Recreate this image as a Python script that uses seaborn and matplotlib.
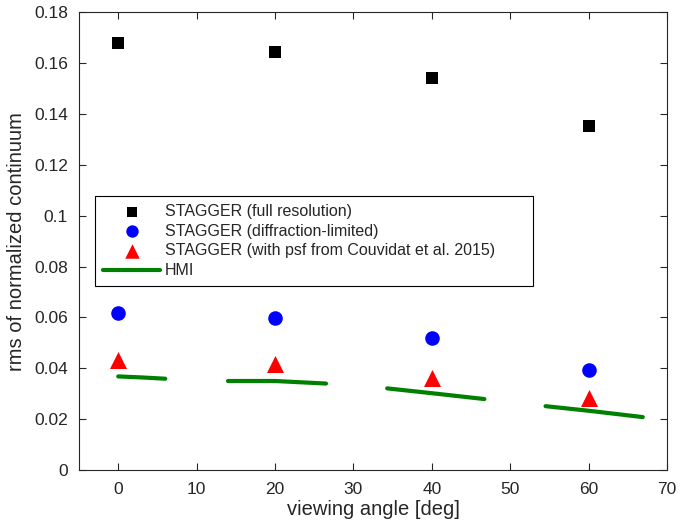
import matplotlib
matplotlib.use("Agg")
import matplotlib.pyplot as plt
import numpy as np
import seaborn as sns
import pandas as pd

# viewing angles of the simulations
angle = [0, 20, 40, 60]
full_res = [0.1680, 0.1645, 0.1540, 0.1352]
diff_lim = [0.0618, 0.0596, 0.0521, 0.0395]
psf_couv = [0.0434, 0.0418, 0.0363, 0.0282]

# HMI curves, one short segment around each angle
hmi_angle = [0, 3, 6, 14, 20, 26.5, 34.3, 40, 46.7, 54.5, 60, 66.9]
hmi_rms = [0.0368, 0.0364, 0.0359, 0.0350, 0.0350, 0.0340,
           0.0321, 0.0302, 0.0279, 0.0251, 0.0233, 0.0208]
hmi_seg = [0, 0, 0, 1, 1, 1, 2, 2, 2, 3, 3, 3]

sns.set_style("ticks")
plt.rcParams['font.family'] = ['Liberation Sans', 'DejaVu Sans']

df = pd.DataFrame({'angle': angle, 'full': full_res, 'diff': diff_lim, 'psf': psf_couv})
hmi = pd.DataFrame({'angle': hmi_angle, 'rms': hmi_rms, 'seg': hmi_seg})

fig = plt.figure(figsize=(6.83, 5.26), dpi=100)
ax = fig.add_axes([0.1157, 0.1065, 0.861, 0.870])

sns.scatterplot(data=df, x='angle', y='full', ax=ax, marker='s', s=80, color='black',
                linewidth=0, label='STAGGER (full resolution)')
sns.scatterplot(data=df, x='angle', y='diff', ax=ax, marker='o', s=110, color='#0000ff',
                linewidth=0, label='STAGGER (diffraction-limited)')
sns.scatterplot(data=df, x='angle', y='psf', ax=ax, marker='^', s=150, color='#ff0000',
                linewidth=0, label='STAGGER (with psf from Couvidat et al. 2015)')
sns.lineplot(data=hmi, x='angle', y='rms', units='seg', estimator=None, sort=False, ax=ax,
             color='#008000', linewidth=3, label='HMI')

ax.set_xlim(-5, 70)
ax.set_ylim(0, 0.18)
ax.set_xticks(np.arange(0, 71, 10))
ax.set_yticks(np.arange(0, 0.181, 0.02))
ax.set_yticklabels(['0', '0.02', '0.04', '0.06', '0.08', '0.1', '0.12', '0.14', '0.16', '0.18'])
ax.tick_params(direction='in', top=True, right=True, labelsize=12.5, colors='#262626', length=5)
ax.tick_params(axis='y', pad=8)
ax.tick_params(axis='x', pad=9)
for sp in ax.spines.values():
    sp.set_visible(True)
    sp.set_color('#262626')
    sp.set_linewidth(0.8)
ax.set_xlabel('viewing angle [deg]', fontsize=14.5, color='#262626', labelpad=2)
ax.set_ylabel('rms of normalized continuum', fontsize=14.5, color='#262626', labelpad=6)

handles, labels = ax.get_legend_handles_labels()
leg = ax.legend(handles[:4], labels[:4], loc='upper left',
                bbox_to_anchor=(0.027, 0.399, 0.745, 0.2), mode='expand',
                fontsize=11.5, fancybox=False, framealpha=1, edgecolor='black',
                borderaxespad=0, handlelength=3.6, labelspacing=0.3, borderpad=0.5,
                handletextpad=0.3, markerscale=0.85)
leg.get_frame().set_linewidth(0.8)

fig.savefig('out.png', dpi=100)
